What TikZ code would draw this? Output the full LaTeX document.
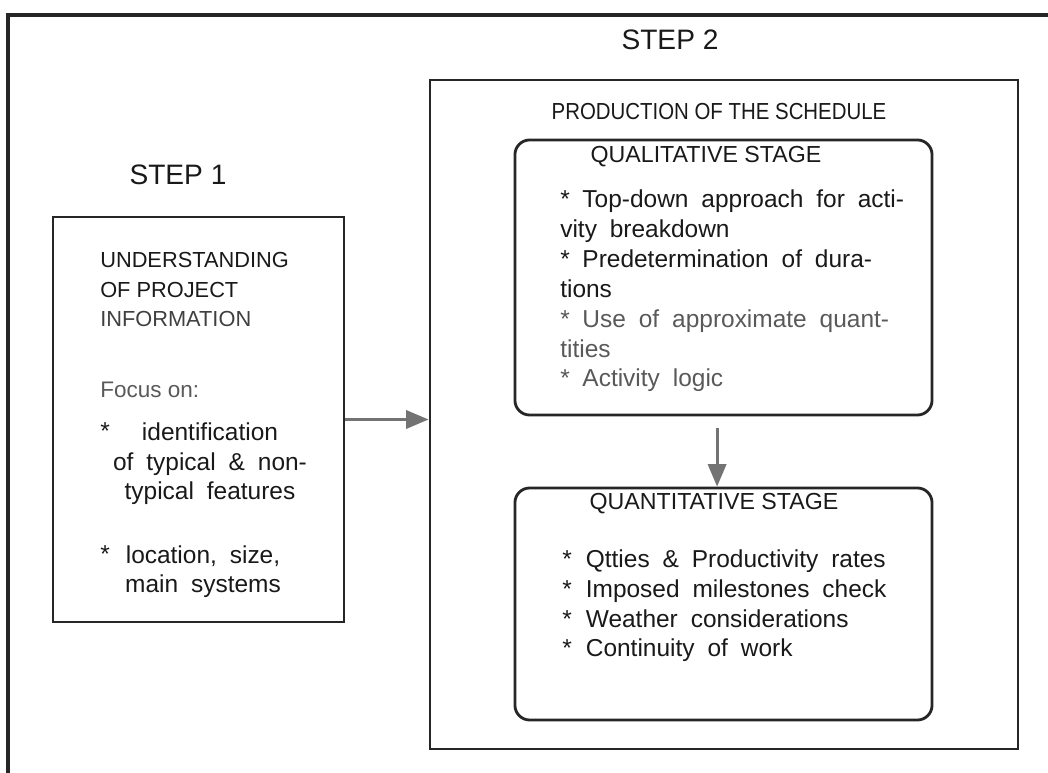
\documentclass[tikz,border=0pt]{standalone}
\usepackage{fontspec}
\setmainfont{Liberation Sans}
\newfontfamily\narrowsf[FakeStretch=0.88]{Liberation Sans}
\newfontfamily\bodysf[WordSpace=1.9]{Liberation Sans}
\usetikzlibrary{arrows.meta, positioning, calc}

\begin{document}
\begin{tikzpicture}[
		x=0.025cm, y=-0.025cm,
		>={Triangle[length=16pt, width=13pt]},
		stepbox/.style={draw=black!85, line width=2pt, inner sep=0pt},
		stagebox/.style={stepbox, rounded corners=10.5pt},
		steplabel/.style={font=\fontsize{20}{24}\selectfont, text=black!90},
		boxhead/.style={font=\fontsize{16.5}{21.3}\selectfont, anchor=base, inner sep=0pt, text=black!90},
		bodytext/.style={font=\bodysf\fontsize{17.4}{21.3}\selectfont, align=left, anchor=base west, inner sep=0pt, text=black!90},
		flow/.style={->, draw=black!55, fill=black!55, line width=2pt}
		]
		
		\useasboundingbox (0,0) rectangle (1048,773);
		
		% ==========================================
		% OUTER FRAME (cut by the page)
		% ==========================================
		\draw[line width=2.6pt, black!85] (8,773) -- (8,15) -- (1048,15);
		
		% ==========================================
		% STEP 1
		% (multi-line texts sit on the baseline of their last line)
		% ==========================================
		\node[steplabel] (step1) at (178,175) {STEP 1};
		\node[stepbox, minimum width=7.275cm, minimum height=10.125cm] (understand) at (198.5,419.5) {};
		
		\node[bodytext, font=\fontsize{15.5}{21.3}\selectfont] (undhead) at (100,327) {UNDERSTANDING\\OF PROJECT\\{\color{black!75}INFORMATION}};
		\node[bodytext, font=\fontsize{16}{21.3}\selectfont, text=black!65] (focus) at (100,398) {Focus on:};
		\node[bodytext] (star1) at (100,440) {*};
		\node[bodytext, align=center, anchor=base] (item1) at (210,500) {identification\\of typical \& non-\\typical features};
		\node[bodytext] (star2) at (100,563) {*};
		\node[bodytext, align=center, anchor=base] (item2) at (203,593) {location, size,\\main systems};
		
		% ==========================================
		% STEP 2
		% ==========================================
		\node[steplabel] (step2) at (670,40) {STEP 2};
		\node[stepbox, minimum width=14.7cm, minimum height=16.725cm] (schedule) at (724,414.5) {};
		\node[boxhead, font=\narrowsf\fontsize{16.5}{21.3}\selectfont] (prodhead) at (719,120) {PRODUCTION OF THE SCHEDULE};
		
		% Qualitative stage
		\node[stagebox, minimum width=10.425cm, minimum height=6.875cm] (qual) at (723.5,277.5) {};
		\node[boxhead] (qualhead) at (706,163) {QUALITATIVE STAGE};
		\node[bodytext] (qualtext) at (560,387) {*\hspace{9pt}Top-down approach for acti-\\vity breakdown\\*\hspace{9pt}Predetermination of dura-\\tions\\{\color{black!65}*\hspace{9pt}Use of approximate quant-}\\{\color{black!65}tities}\\{\color{black!65}*\hspace{9pt}Activity logic}};
		
		% Quantitative stage
		\node[stagebox, minimum width=10.425cm, minimum height=5.8cm] (quant) at (723.5,604) {};
		\node[boxhead] (quanthead) at (714,510) {QUANTITATIVE STAGE};
		\node[bodytext] (quanttext) at (562,657) {*\hspace{10pt}Qtties \& Productivity rates\\*\hspace{10pt}Imposed milestones check\\*\hspace{10pt}Weather considerations\\*\hspace{10pt}Continuity of work};
		
		% ==========================================
		% CONNECTORS
		% ==========================================
		\draw[flow] (understand.east) -- (understand.east -| schedule.west);
		\draw[flow, shorten <=8.5pt] ([xshift=-0.16cm]qual.south) -- ([xshift=-0.16cm]quant.north);
		
	\end{tikzpicture}
\end{document}
